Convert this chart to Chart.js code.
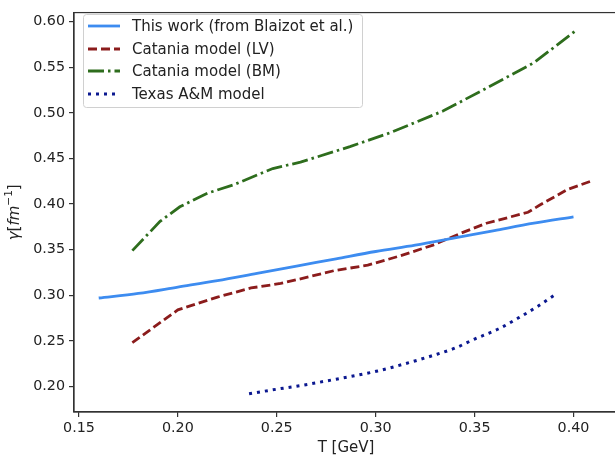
<!DOCTYPE html>
<html>
<head>
<meta charset="utf-8">
<script src="https://cdn.jsdelivr.net/npm/chart.js@4.4.1/dist/chart.umd.min.js"></script>
<style>
  html, body { margin: 0; padding: 0; background: #fff; overflow: hidden; }
  #chart { display: block; }
</style>
</head>
<body>
<canvas id="chart" width="618" height="457"></canvas>
<script>
// values
const blaizotT = [0.16, 0.18, 0.20, 0.22, 0.24, 0.26, 0.28, 0.30, 0.32, 0.34, 0.36, 0.38, 0.40];
const blaizotGamma = [0.297, 0.302, 0.309, 0.316, 0.324, 0.332, 0.340, 0.348, 0.355, 0.363, 0.371, 0.379, 0.386];

const lvT = [0.177, 0.200, 0.220, 0.237, 0.252, 0.262, 0.279, 0.296, 0.312, 0.329, 0.343, 0.356, 0.377, 0.383, 0.397, 0.410];
const lvGamma = [0.248, 0.284, 0.298, 0.308, 0.313, 0.318, 0.327, 0.333, 0.343, 0.355, 0.368, 0.379, 0.391, 0.399, 0.416, 0.426];

const bmT = [0.177, 0.191, 0.201, 0.215, 0.228, 0.248, 0.262, 0.287, 0.307, 0.334, 0.355, 0.380, 0.401];
const bmGamma = [0.349, 0.381, 0.397, 0.412, 0.421, 0.439, 0.446, 0.463, 0.478, 0.502, 0.526, 0.555, 0.590];

const tamuT = [0.236, 0.250, 0.262, 0.280, 0.301, 0.315, 0.329, 0.340, 0.350, 0.362, 0.372, 0.382, 0.391];
const tamuGamma = [0.192, 0.197, 0.201, 0.208, 0.217, 0.225, 0.234, 0.242, 0.252, 0.263, 0.275, 0.288, 0.301];

const xTicks = [0.15, 0.20, 0.25, 0.30, 0.35, 0.40];
const yTicks = [0.20, 0.25, 0.30, 0.35, 0.40, 0.45, 0.50, 0.55, 0.60];

const seriesNames = ["This work (from Blaizot et al.)", "Catania model (LV)", "Catania model (BM)", "Texas A&M model"];

function pts(xs, ys) {
  return xs.map((x, i) => ({ x: x, y: ys[i] }));
}

Chart.defaults.font.family = "'DejaVu Sans', sans-serif";
Chart.defaults.font.size = 14.3;
Chart.defaults.color = "#222";

const datasets = [
  {
    label: seriesNames[0],
    data: pts(blaizotT, blaizotGamma),
    borderColor: "#3d8cf0",
    borderWidth: 2.8,
    cubicInterpolationMode: "monotone",
    borderDash: [],
  },
  {
    label: seriesNames[1],
    data: pts(lvT, lvGamma),
    borderColor: "#8b1c1c",
    borderWidth: 2.8,
    tension: 0,
    borderDash: [9, 4],
  },
  {
    label: seriesNames[2],
    data: pts(bmT, bmGamma),
    borderColor: "#2e6d1d",
    borderWidth: 2.8,
    tension: 0,
    borderDash: [16, 4, 2.5, 4],
  },
  {
    label: seriesNames[3],
    data: pts(tamuT, tamuGamma),
    borderColor: "#0b1890",
    borderWidth: 3,
    cubicInterpolationMode: "monotone",
    borderDash: [3, 5],
  },
];
datasets.forEach((d) => {
  d.pointRadius = 0;
  d.fill = false;
  d.borderCapStyle = "butt";
});

// frame, legend and axis titles
const decorations = {
  id: "decorations",
  afterDraw(chart) {
    const ctx = chart.ctx;
    const a = chart.chartArea;
    ctx.save();
    ctx.strokeStyle = "#333";
    ctx.lineWidth = 1.2;
    ctx.strokeRect(a.left, a.top, a.right - a.left, a.bottom - a.top);

    // legend
    const lx = 83, ly = 14, lw = 279, lh = 93;
    ctx.beginPath();
    ctx.roundRect(lx + 0.5, ly + 0.5, lw, lh, 3);
    ctx.fillStyle = "rgba(255,255,255,0.8)";
    ctx.fill();
    ctx.strokeStyle = "#d0d0d0";
    ctx.lineWidth = 1;
    ctx.stroke();
    ctx.font = "15px 'DejaVu Sans'";
    ctx.textBaseline = "middle";
    ctx.textAlign = "left";
    const rows = [26, 49, 71, 94];
    chart.data.datasets.forEach((d, i) => {
      ctx.beginPath();
      ctx.setLineDash(d.borderDash);
      ctx.strokeStyle = d.borderColor;
      ctx.lineWidth = d.borderWidth;
      ctx.moveTo(88, rows[i]);
      ctx.lineTo(120, rows[i]);
      ctx.stroke();
      ctx.setLineDash([]);
      ctx.fillStyle = "#222";
      ctx.fillText(d.label, 132, rows[i] + 1);
    });

    // x title
    ctx.textAlign = "center";
    ctx.fillText("T [GeV]", (a.left + a.right) / 2, 448);

    // y title: γ[fm⁻¹] with italic symbols
    ctx.translate(15, (a.top + a.bottom) / 2);
    ctx.rotate(-Math.PI / 2);
    const parts = [
      { t: "γ", f: "italic 15px 'DejaVu Sans'", dy: 0 },
      { t: "[", f: "15px 'DejaVu Sans'", dy: 0 },
      { t: "fm", f: "italic 15px 'DejaVu Sans'", dy: 0 },
      { t: "−1", f: "10.5px 'DejaVu Sans'", dy: -5.5 },
      { t: "]", f: "15px 'DejaVu Sans'", dy: 0 },
    ];
    let total = 0;
    parts.forEach((p) => { ctx.font = p.f; p.w = ctx.measureText(p.t).width; total += p.w; });
    let x = -total / 2;
    ctx.textAlign = "left";
    parts.forEach((p) => {
      ctx.font = p.f;
      ctx.fillText(p.t, x, p.dy);
      x += p.w;
    });
    ctx.restore();
  },
};

new Chart(document.getElementById("chart"), {
  type: "line",
  data: { datasets: datasets },
  options: {
    responsive: false,
    animation: false,
    layout: { padding: { top: 6, left: 0, right: 0, bottom: 0 } },
    plugins: { legend: { display: false }, tooltip: { enabled: false } },
    scales: {
      x: {
        type: "linear",
        min: 0.1475,
        max: 0.4225,
        afterFit: (s) => { s.height = 45; },
        afterBuildTicks: (s) => { s.ticks = xTicks.map((v) => ({ value: v })); },
        ticks: { padding: 3, maxRotation: 0, callback: (v) => v.toFixed(2), color: "#222" },
        grid: { drawOnChartArea: false, drawTicks: true, tickLength: 5, color: "#333", lineWidth: 1.2 },
        border: { display: true, color: "#333", width: 1.2 },
      },
      y: {
        type: "linear",
        min: 0.172,
        max: 0.61,
        afterFit: (s) => { s.width = 74; },
        afterBuildTicks: (s) => { s.ticks = yTicks.map((v) => ({ value: v })); },
        ticks: { padding: 4, callback: (v) => v.toFixed(2), color: "#222" },
        grid: { drawOnChartArea: false, drawTicks: true, tickLength: 5, color: "#333", lineWidth: 1.2 },
        border: { display: true, color: "#333", width: 1.2 },
      },
    },
  },
  plugins: [decorations],
});
</script>
</body>
</html>
